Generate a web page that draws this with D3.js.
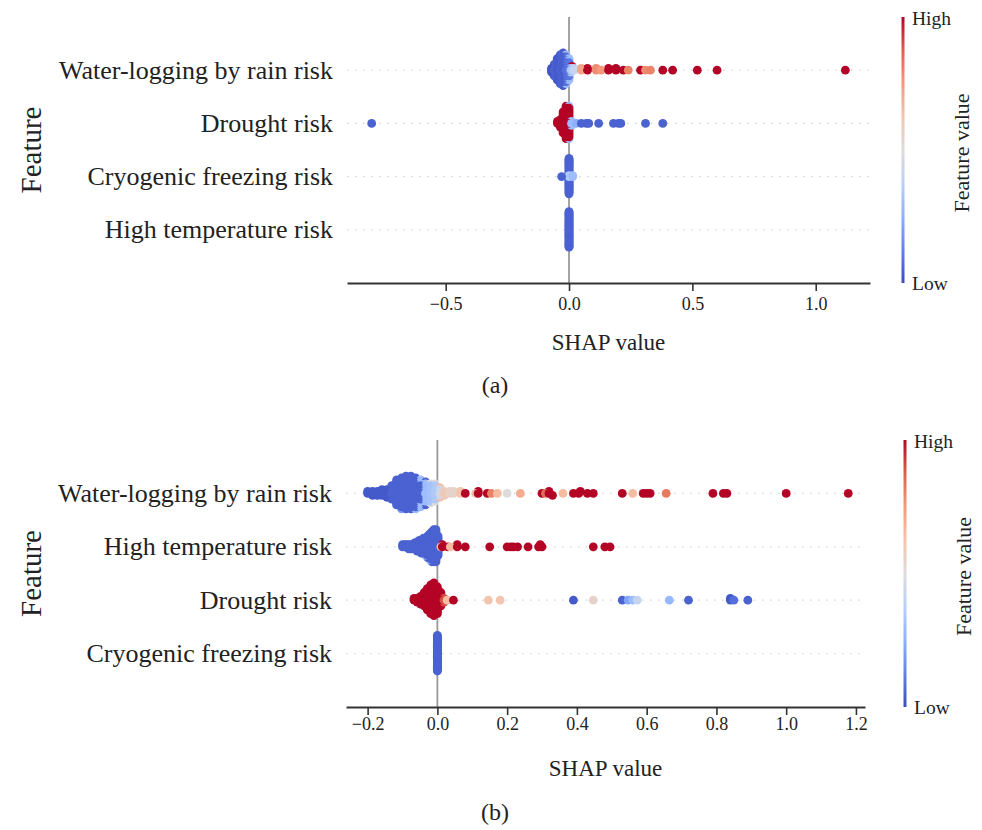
<!DOCTYPE html>
<html>
<head>
<meta charset="utf-8">
<script src="https://cdn.jsdelivr.net/npm/d3@7"></script>
<style>
  body { margin: 0; background: #fff; }
  svg text { font-family: 'Liberation Serif', 'Times New Roman', serif; fill: #222; }
</style>
</head>
<body>
<svg id="chart" width="982" height="830"></svg>
<script>
/* SHAP summary (beeswarm) plots, panels (a) and (b) */

// Feature names, top row first
const featuresA = ['Water-logging by rain risk', 'Drought risk', 'Cryogenic freezing risk', 'High temperature risk'];
const featuresB = ['Water-logging by rain risk', 'High temperature risk', 'Drought risk', 'Cryogenic freezing risk'];

const ticksA = [-0.5, 0.0, 0.5, 1.0];
const ticksB = [-0.2, 0.0, 0.2, 0.4, 0.6, 0.8, 1.0, 1.2];

// Samples as [SHAP value, feature value (0 low .. 1 high), count]
const waterA = [
  [-0.071, 0.02, 3], [-0.06, 0.05, 7], [-0.048, 0.03, 12], [-0.036, 0.05, 16],
  [-0.024, 0.04, 18], [-0.012, 0.08, 14], [-0.012, 0.3, 2], [0.0, 0.1, 8], [0.0, 0.3, 4],
  [0.008, 0.35, 3], [0.02, 0.42, 2],
  [0.012, 1.0, 1], [0.05, 0.72, 2], [0.075, 1.0, 2], [0.11, 0.78, 2], [0.13, 0.75, 1],
  [0.16, 1.0, 2], [0.19, 1.0, 2], [0.22, 1.0, 1], [0.24, 0.8, 1], [0.29, 1.0, 1],
  [0.31, 0.78, 1], [0.33, 0.8, 1], [0.38, 1.0, 1], [0.42, 1.0, 1], [0.52, 1.0, 1],
  [0.6, 1.0, 1], [1.12, 1.0, 1]
];
const droughtA = [
  [-0.80, 0.05, 1],
  [-0.047, 1, 2], [-0.035, 1, 5], [-0.024, 1, 12], [-0.012, 1, 18], [0.0, 1, 16],
  [0.0, 0.3, 2], [0.01, 0.3, 3],
  [0.03, 0.25, 1], [0.05, 0.05, 1], [0.07, 0.05, 1], [0.08, 0.05, 1], [0.12, 0.05, 1],
  [0.18, 0.05, 1], [0.2, 0.05, 1], [0.21, 0.05, 1], [0.31, 0.05, 1], [0.38, 0.05, 1]
];
const cryoA = [
  [0.0, 0.35, 2], [0.0, 0.05, 36], [-0.03, 0.05, 1], [0.015, 0.3, 2]
];
const heatA = [
  [0.0, 0.05, 40]
];

const waterB = [
  [-0.2, 0.03, 2], [-0.186, 0.03, 3], [-0.172, 0.03, 3], [-0.159, 0.03, 4], [-0.145, 0.03, 5],
  [-0.131, 0.05, 8], [-0.117, 0.05, 14], [-0.103, 0.05, 16], [-0.103, 0.2, 1], [-0.09, 0.05, 18],
  [-0.076, 0.05, 18], [-0.062, 0.05, 16], [-0.062, 0.3, 1], [-0.048, 0.05, 8], [-0.048, 0.3, 7],
  [-0.034, 0.3, 10], [-0.034, 0.05, 3], [-0.02, 0.32, 9], [-0.02, 0.5, 2], [-0.007, 0.35, 8],
  [-0.007, 0.5, 2], [0.007, 0.45, 4], [0.007, 0.65, 2], [0.02, 0.6, 3], [0.035, 0.55, 2],
  [0.046, 0.55, 2], [0.066, 0.62, 2], [0.08, 1, 1], [0.11, 0.65, 1], [0.117, 1, 2],
  [0.143, 1, 1], [0.155, 0.8, 1], [0.172, 0.65, 1], [0.2, 0.5, 1], [0.238, 0.7, 1],
  [0.3, 1, 1], [0.31, 0.85, 1], [0.32, 1, 2], [0.33, 1, 1], [0.36, 0.65, 1], [0.39, 1, 1],
  [0.405, 1, 1], [0.41, 1, 1], [0.43, 1, 1], [0.447, 1, 1], [0.53, 1, 1], [0.56, 0.65, 1],
  [0.59, 1, 1], [0.60, 1, 1], [0.61, 1, 1], [0.656, 0.82, 1], [0.79, 1, 1], [0.82, 1, 1],
  [0.83, 1, 1], [1.0, 1, 1], [1.178, 1, 1]
];
const heatB = [
  [-0.1, 0.05, 2], [-0.094, 0.05, 2], [-0.088, 0.05, 2], [-0.082, 0.05, 3], [-0.076, 0.05, 3],
  [-0.07, 0.05, 3], [-0.064, 0.05, 4], [-0.058, 0.05, 5], [-0.052, 0.05, 6], [-0.046, 0.05, 7],
  [-0.04, 0.05, 8], [-0.034, 0.05, 8], [-0.034, 0.3, 1], [-0.028, 0.05, 11], [-0.022, 0.05, 12],
  [-0.022, 0.3, 1], [-0.016, 0.05, 15], [-0.01, 0.05, 16], [-0.004, 0.05, 16], [0.002, 0.05, 10],
  [0.01, 0.62, 1], [0.014, 1, 2], [0.03, 1, 1], [0.037, 0.65, 1], [0.057, 1, 2], [0.08, 1, 1],
  [0.15, 1, 1], [0.2, 1, 1], [0.21, 1, 1], [0.218, 1, 1], [0.23, 1, 1], [0.26, 1, 1],
  [0.29, 1, 1], [0.295, 1, 1], [0.3, 1, 1], [0.447, 1, 1], [0.48, 1, 1], [0.495, 1, 1]
];
const droughtB = [
  [-0.067, 1, 2], [-0.058, 1, 3], [-0.048, 1, 5], [-0.038, 1, 8], [-0.029, 1, 12],
  [-0.019, 1, 16], [-0.01, 1, 18], [0.0, 1, 15], [0.01, 1, 8], [0.019, 0.9, 3], [0.028, 0.65, 1],
  [0.046, 1, 1], [0.146, 0.62, 1], [0.18, 0.62, 1], [0.39, 0.03, 1], [0.447, 0.55, 1],
  [0.53, 0.05, 1], [0.547, 0.22, 1], [0.56, 0.3, 1], [0.573, 0.42, 1], [0.665, 0.28, 1],
  [0.72, 0.05, 1], [0.84, 0.03, 2], [0.85, 0.08, 1], [0.89, 0.05, 1]
];
const cryoB = [
  [0.0, 0.05, 40]
];

// matplotlib "coolwarm" stops
const coolwarmStops = ['#3b4cc0', '#6282ea', '#8db0fe', '#b8d0f9', '#dddcdc', '#f5c4ac', '#f49a7b', '#de604d', '#b40426'];
const color = d3.scaleLinear()
  .domain(coolwarmStops.map((c, i) => i / (coolwarmStops.length - 1)))
  .range(coolwarmStops)
  .interpolate(d3.interpolateRgb);

const svg = d3.select('#chart');

// Same layering as shap's summary plot: quantize into 100 bins, stack alternately
function swarm(groups) {
  const pts = [];
  groups.forEach(([shap, fv, n]) => {
    for (let k = 0; k < n; k++) pts.push({ shap, fv });
  });
  const lo = d3.min(pts, d => d.shap);
  const hi = d3.max(pts, d => d.shap);
  pts.forEach(p => p.bin = Math.round(100 * (p.shap - lo) / (hi - lo + 1e-8)));

  let layer = 0, last = -1;
  pts.slice().sort((a, b) => a.bin - b.bin).forEach(p => {
    if (p.bin !== last) layer = 0;
    p.layer = layer;
    p.ys = Math.ceil(layer / 2) * ((layer % 2) * 2 - 1);
    layer++;
    last = p.bin;
  });
  const maxYs = d3.max(pts, p => p.ys + 1);
  pts.forEach(p => p.ys *= 0.9 * 0.4 / maxYs);
  // draw outer layers first so the centre stays on top
  return pts.sort((a, b) => b.layer - a.layer);
}

function drawPanel(cfg) {
  const x = d3.scaleLinear().domain(cfg.domain).range([cfg.left, cfg.right]);
  const y = d3.scaleLinear().domain([-1, cfg.features.length]).range([cfg.bottom, cfg.top]);
  const g = svg.append('g');
  const n = cfg.features.length;

  // dotted row guides
  g.selectAll('line.row')
    .data(cfg.features)
    .join('line')
    .attr('class', 'row')
    .attr('x1', cfg.left).attr('x2', cfg.right)
    .attr('y1', (d, i) => y(n - 1 - i)).attr('y2', (d, i) => y(n - 1 - i))
    .attr('stroke', '#d4d4d4')
    .attr('stroke-width', 1.2)
    .attr('stroke-dasharray', '1.5,6.5');

  // zero line
  g.append('line')
    .attr('x1', x(0)).attr('x2', x(0))
    .attr('y1', cfg.top).attr('y2', cfg.bottom)
    .attr('stroke', '#999')
    .attr('stroke-width', 1.8);

  // beeswarm points
  cfg.data.forEach((groups, i) => {
    const row = n - 1 - i;
    g.append('g')
      .selectAll('circle')
      .data(swarm(groups))
      .join('circle')
      .attr('cx', d => x(d.shap))
      .attr('cy', d => y(row + d.ys))
      .attr('r', 4.4)
      .attr('fill', d => color(d.fv));
  });

  // feature names
  g.selectAll('text.feat')
    .data(cfg.features)
    .join('text')
    .attr('class', 'feat')
    .attr('x', cfg.left - 14)
    .attr('y', (d, i) => y(n - 1 - i))
    .attr('text-anchor', 'end')
    .attr('dominant-baseline', 'central')
    .attr('font-size', 26)
    .text(d => d);

  // x axis
  const axis = g.append('g')
    .attr('transform', `translate(0,${cfg.bottom})`)
    .call(d3.axisBottom(x).tickValues(cfg.ticks).tickFormat(d3.format('.1f'))
      .tickSize(8).tickSizeOuter(0).tickPadding(cfg.tickPad));
  axis.select('.domain').attr('stroke', '#333').attr('stroke-width', 2);
  axis.selectAll('.tick line').attr('stroke', '#333').attr('stroke-width', 1.6);
  axis.selectAll('.tick text')
    .attr('font-size', 18)
    .attr('font-family', "'Liberation Serif', serif")
    .attr('fill', '#333');

  g.append('text')
    .attr('x', (cfg.left + cfg.right) / 2)
    .attr('y', cfg.xTitleY)
    .attr('text-anchor', 'middle')
    .attr('dominant-baseline', 'central')
    .attr('font-size', 23)
    .text('SHAP value');

  g.append('text')
    .attr('transform', `translate(31,${(cfg.top + cfg.bottom) / 2}) rotate(-90)`)
    .attr('text-anchor', 'middle')
    .attr('dominant-baseline', 'central')
    .attr('font-size', 29)
    .text('Feature');

  g.append('text')
    .attr('x', 495)
    .attr('y', cfg.capY)
    .attr('text-anchor', 'middle')
    .attr('dominant-baseline', 'central')
    .attr('font-size', 24)
    .text(cfg.caption);

  drawColorbar(cfg);
}

// thin vertical colour bar with High / Low labels
function drawColorbar(cfg) {
  const id = 'cb' + cfg.caption.replace(/\W/g, '');
  const grad = svg.append('defs').append('linearGradient')
    .attr('id', id)
    .attr('x1', 0).attr('y1', 1).attr('x2', 0).attr('y2', 0);
  grad.selectAll('stop')
    .data(coolwarmStops)
    .join('stop')
    .attr('offset', (d, i) => i / (coolwarmStops.length - 1))
    .attr('stop-color', d => d);

  svg.append('rect')
    .attr('x', cfg.cbX - 1.5)
    .attr('y', cfg.top)
    .attr('width', 3)
    .attr('height', cfg.bottom - cfg.top)
    .attr('fill', `url(#${id})`);

  svg.append('text')
    .attr('x', cfg.cbX + 9).attr('y', cfg.top + 1)
    .attr('dominant-baseline', 'central')
    .attr('font-size', 19.5)
    .text('High');
  svg.append('text')
    .attr('x', cfg.cbX + 9).attr('y', cfg.bottom)
    .attr('dominant-baseline', 'central')
    .attr('font-size', 19.5)
    .text('Low');
  svg.append('text')
    .attr('transform', `translate(${cfg.cbX + 58},${(cfg.top + cfg.bottom) / 2 + 3}) rotate(-90)`)
    .attr('text-anchor', 'middle')
    .attr('dominant-baseline', 'central')
    .attr('font-size', 22)
    .text('Feature value');
}

drawPanel({
  features: featuresA,
  data: [waterA, droughtA, cryoA, heatA],
  ticks: ticksA,
  domain: [-0.9, 1.22],
  left: 347, right: 870, top: 17, bottom: 283,
  tickPad: 6, xTitleY: 342, capY: 385, caption: '(a)', cbX: 903
});

drawPanel({
  features: featuresB,
  data: [waterB, heatB, droughtB, cryoB],
  ticks: ticksB,
  domain: [-0.262, 1.226],
  left: 346, right: 865, top: 440, bottom: 707,
  tickPad: 2, xTitleY: 768, capY: 812, caption: '(b)', cbX: 905
});
</script>
</body>
</html>
